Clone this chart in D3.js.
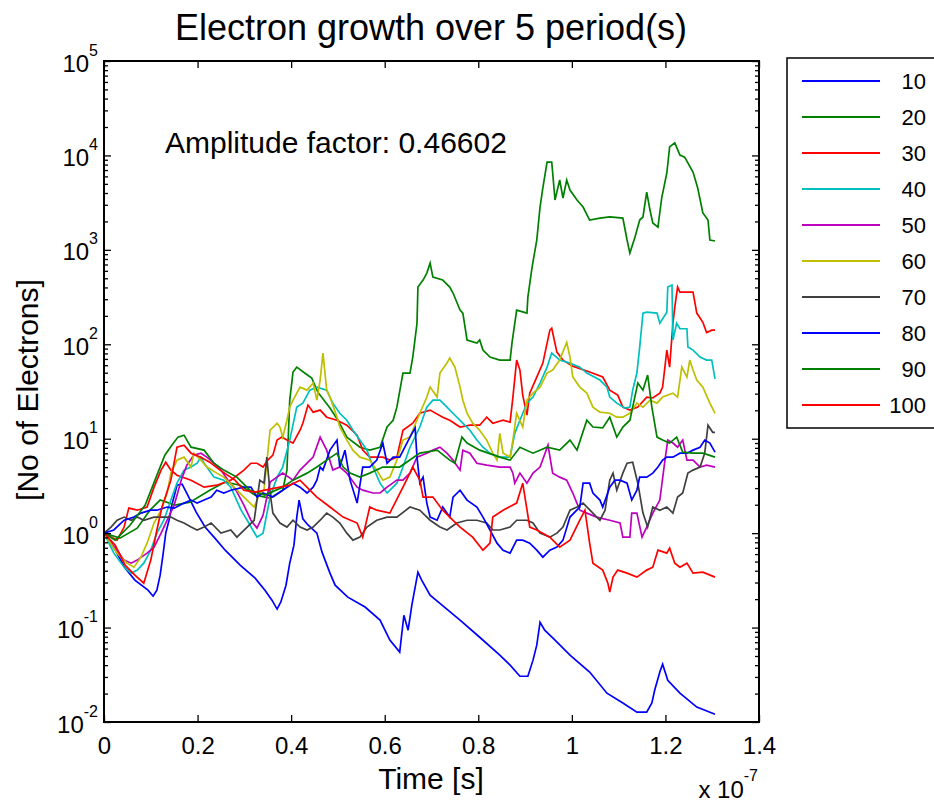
<!DOCTYPE html>
<html>
<head>
<meta charset="utf-8">
<script src="https://cdn.jsdelivr.net/npm/d3@7/dist/d3.min.js"></script>
<style>
  html, body { margin: 0; padding: 0; background: #fff; }
  svg { display: block; font-family: "Liberation Sans", Arial, sans-serif; }
</style>
</head>
<body>
<svg id="chart" width="934" height="803"></svg>
<script>
// ---------- DATA (time in units of 1e-7 s, value = number of electrons) ----------
const titleText = "Electron growth over 5 period(s)";
const annotation = "Amplitude factor: 0.46602";
const seriesNames = ["10", "20", "30", "40", "50", "60", "70", "80", "90", "100"];
const seriesColors = ["#0000ff", "#008000", "#ff0000", "#00bfbf", "#bf00bf", "#bfbf00", "#404040", "#0000ff", "#008000", "#ff0000"];
const xTickValues = [0, 0.2, 0.4, 0.6, 0.8, 1.0, 1.2, 1.4];
const xTickLabels = ["0", "0.2", "0.4", "0.6", "0.8", "1", "1.2", "1.4"];
const yTickExponents = [-2, -1, 0, 1, 2, 3, 4, 5];

const s10 = [[0,1],[0.024,0.660],[0.045,0.426],[0.066,0.318],[0.094,0.249],[0.105,0.215],[0.113,0.249],[0.120,0.359],[0.126,0.585],[0.132,1.00],[0.139,1.37],[0.145,1.98],[0.156,3.22],[0.167,3.30],[0.179,2.53],[0.197,1.67],[0.216,1.16],[0.237,0.885],[0.259,0.660],[0.291,0.458],[0.323,0.334],[0.344,0.249],[0.359,0.195],[0.370,0.157],[0.378,0.187],[0.389,0.281],[0.397,0.481],[0.406,0.746],[0.412,1.47],[0.417,2.24],[0.425,1.42],[0.436,1.22],[0.455,1.00],[0.466,0.629],[0.483,0.377],[0.494,0.281],[0.521,0.210],[0.558,0.165],[0.590,0.120],[0.611,0.0736],[0.632,0.0550],[0.641,0.135],[0.650,0.0938],[0.658,0.173],[0.671,0.386],[0.679,0.318],[0.697,0.220],[0.718,0.180],[0.761,0.120],[0.803,0.0790],[0.846,0.0510],[0.868,0.0400],[0.889,0.0305],[0.906,0.0305],[0.917,0.0452],[0.925,0.0651],[0.932,0.114],[0.942,0.0938],[0.964,0.0736],[0.996,0.0510],[1.038,0.0338],[1.075,0.0202],[1.109,0.0159],[1.139,0.0127],[1.160,0.0127],[1.171,0.0159],[1.177,0.0217],[1.188,0.0338],[1.194,0.0410],[1.205,0.0277],[1.231,0.0202],[1.267,0.0144],[1.306,0.0121]];

const s20 = [[0,1],[0.034,0.885],[0.071,1.13],[0.098,1.75],[0.120,2.24],[0.152,1.98],[0.184,2.13],[0.226,2.85],[0.259,3.47],[0.291,3.22],[0.323,2.53],[0.355,2.35],[0.382,2.85],[0.391,4.65],[0.397,25.6],[0.404,50.8],[0.412,57.3],[0.429,49.6],[0.444,44.0],[0.457,31.1],[0.483,21.1],[0.500,15.7],[0.519,10.4],[0.547,8.13],[0.568,7.57],[0.590,8.13],[0.605,13.3],[0.618,15.7],[0.626,21.6],[0.639,49.6],[0.654,49.6],[0.660,73.2],[0.669,167],[0.671,404],[0.682,479],[0.690,568],[0.697,723],[0.703,515],[0.724,479],[0.739,404],[0.746,349],[0.761,230],[0.767,214],[0.776,111],[0.797,103],[0.803,111],[0.810,86.8],[0.825,73.2],[0.846,68.0],[0.868,68.0],[0.872,103],[0.882,230],[0.904,214],[0.906,316],[0.915,657],[0.925,1271],[0.932,2840],[0.938,4520],[0.947,8500],[0.957,8500],[0.959,6520],[0.964,3370],[0.974,5490],[0.981,3540],[0.989,5490],[0.996,4300],[1.011,3370],[1.024,2840],[1.038,2070],[1.060,2170],[1.081,2230],[1.109,2170],[1.118,1271],[1.124,925],[1.135,1370],[1.145,2070],[1.152,2230],[1.160,4090],[1.167,2640],[1.173,1925],[1.184,1740],[1.192,3540],[1.203,6520],[1.209,12300],[1.220,13600],[1.231,10090],[1.241,9600],[1.259,6680],[1.269,4520],[1.280,2460],[1.291,2070],[1.295,1271],[1.306,1240]];

const s30 = [[0,1],[0.028,0.843],[0.043,1.16],[0.053,1.84],[0.071,1.75],[0.092,1.89],[0.107,3.07],[0.122,4.65],[0.132,5.64],[0.143,4.65],[0.156,4.11],[0.186,3.64],[0.214,3.07],[0.241,3.22],[0.271,3.64],[0.299,4.65],[0.314,5.50],[0.327,5.50],[0.340,5.01],[0.350,5.93],[0.361,6.70],[0.370,9.67],[0.380,10.4],[0.391,9.67],[0.404,9.00],[0.419,12.3],[0.425,14.6],[0.436,22.7],[0.447,19.1],[0.462,20.1],[0.476,16.9],[0.498,15.7],[0.519,13.9],[0.541,10.9],[0.553,7.57],[0.568,6.38],[0.596,6.38],[0.611,5.93],[0.626,6.38],[0.639,12.3],[0.660,14.6],[0.675,18.6],[0.697,20.1],[0.724,16.9],[0.739,15.7],[0.761,13.3],[0.782,13.9],[0.803,13.9],[0.818,16.9],[0.831,14.6],[0.853,15.7],[0.868,15.0],[0.874,27.6],[0.882,68.0],[0.889,53.3],[0.895,29.0],[0.904,17.8],[0.910,30.4],[0.925,44.9],[0.938,63.2],[0.953,141],[0.957,148],[0.968,82.6],[0.981,68.0],[1.002,58.7],[1.038,50.8],[1.066,45.0],[1.081,32.7],[1.098,29.0],[1.109,21.6],[1.124,20.1],[1.141,21.6],[1.160,27.6],[1.173,27.0],[1.188,30.4],[1.194,35.2],[1.203,86.8],[1.209,57.3],[1.216,167],[1.220,248],[1.226,404],[1.231,357],[1.259,357],[1.267,214],[1.274,190],[1.280,171],[1.288,133],[1.299,141],[1.306,141]];

const s40 = [[0,1],[0.021,0.614],[0.043,0.436],[0.058,0.377],[0.071,0.406],[0.085,0.481],[0.100,0.660],[0.113,1.00],[0.128,1.37],[0.143,2.24],[0.156,3.38],[0.171,4.65],[0.186,5.01],[0.199,5.50],[0.207,6.38],[0.214,5.50],[0.235,3.92],[0.256,3.64],[0.271,3.07],[0.293,1.75],[0.306,1.37],[0.327,0.907],[0.340,1.00],[0.355,2.41],[0.370,3.92],[0.382,5.01],[0.397,9.67],[0.412,21.6],[0.425,23.8],[0.440,32.7],[0.455,35.2],[0.476,32.7],[0.489,23.8],[0.504,18.6],[0.519,15.7],[0.532,12.3],[0.547,9.67],[0.562,7.57],[0.575,5.01],[0.590,3.38],[0.605,2.66],[0.626,3.38],[0.639,5.01],[0.654,8.13],[0.675,13.3],[0.690,21.6],[0.703,25.6],[0.718,25.6],[0.733,21.6],[0.746,18.6],[0.767,14.6],[0.782,12.3],[0.797,9.67],[0.810,8.13],[0.825,7.00],[0.846,6.38],[0.868,6.38],[0.878,11.4],[0.889,15.7],[0.904,23.8],[0.917,27.6],[0.932,38.9],[0.947,57.3],[0.957,80.7],[0.974,68.0],[0.996,63.2],[1.017,57.3],[1.032,49.6],[1.060,41.8],[1.075,35.2],[1.081,27.6],[1.096,23.8],[1.113,21.1],[1.124,21.6],[1.130,32.7],[1.139,49.6],[1.145,93.5],[1.152,214],[1.160,219],[1.182,214],[1.188,167],[1.203,219],[1.205,404],[1.214,424],[1.216,111],[1.224,167],[1.231,146],[1.246,146],[1.248,93.5],[1.259,86.8],[1.274,73.2],[1.288,68.0],[1.299,68.0],[1.306,43.0]];

const s50 = [[0,1],[0.028,0.660],[0.043,0.518],[0.058,0.481],[0.071,0.518],[0.092,0.614],[0.107,0.711],[0.122,1.00],[0.135,1.37],[0.150,1.98],[0.165,3.64],[0.177,5.25],[0.192,6.70],[0.207,7.03],[0.220,6.38],[0.235,5.50],[0.250,4.65],[0.265,3.64],[0.282,2.85],[0.299,1.98],[0.314,1.37],[0.327,1.13],[0.340,1.55],[0.355,3.47],[0.382,4.32],[0.404,3.64],[0.419,4.65],[0.434,5.50],[0.447,6.38],[0.462,10.4],[0.476,7.57],[0.489,4.65],[0.504,5.01],[0.519,4.32],[0.541,3.07],[0.553,2.85],[0.575,2.66],[0.590,2.66],[0.605,3.07],[0.626,3.64],[0.639,3.64],[0.654,4.32],[0.669,6.38],[0.690,7.03],[0.703,7.57],[0.718,8.13],[0.733,7.03],[0.746,5.93],[0.761,4.65],[0.767,7.57],[0.782,7.03],[0.797,5.50],[0.818,5.25],[0.846,5.01],[0.868,5.01],[0.874,4.32],[0.878,3.38],[0.889,4.32],[0.904,3.38],[0.917,4.32],[0.932,5.01],[0.949,8.55],[0.959,4.32],[0.974,3.92],[0.989,3.64],[1.002,2.66],[1.017,1.75],[1.032,1.63],[1.053,1.48],[1.081,1.37],[1.103,1.28],[1.109,0.907],[1.124,0.907],[1.128,1.63],[1.139,1.63],[1.150,0.907],[1.160,1.16],[1.173,1.63],[1.188,2.24],[1.199,5.93],[1.205,9.67],[1.216,9.00],[1.226,8.13],[1.237,9.67],[1.246,5.93],[1.259,5.93],[1.274,5.01],[1.288,5.25],[1.306,5.01]];

const s60 = [[0,1],[0.028,0.614],[0.049,0.481],[0.064,0.436],[0.079,0.557],[0.092,0.783],[0.107,1.28],[0.122,1.75],[0.135,2.66],[0.143,4.32],[0.156,5.93],[0.171,6.38],[0.186,5.01],[0.192,7.03],[0.207,5.93],[0.220,5.01],[0.241,4.32],[0.256,3.92],[0.278,3.07],[0.299,2.41],[0.321,1.89],[0.333,2.66],[0.342,2.85],[0.355,12.3],[0.370,14.6],[0.376,13.3],[0.382,10.4],[0.391,15.7],[0.397,21.6],[0.404,25.6],[0.419,35.2],[0.434,32.7],[0.447,38.9],[0.455,25.6],[0.462,41.8],[0.468,80.7],[0.476,32.7],[0.483,27.6],[0.498,16.9],[0.504,13.3],[0.519,9.67],[0.532,7.57],[0.547,6.38],[0.568,5.93],[0.583,4.65],[0.596,3.64],[0.611,3.92],[0.626,5.93],[0.639,9.67],[0.654,10.4],[0.675,18.6],[0.690,27.6],[0.697,35.2],[0.712,27.6],[0.718,49.6],[0.733,63.2],[0.739,71.5],[0.750,57.3],[0.761,35.2],[0.767,25.6],[0.776,18.6],[0.788,14.6],[0.803,12.3],[0.818,9.67],[0.831,7.03],[0.840,5.93],[0.846,11.4],[0.853,7.03],[0.868,6.38],[0.874,9.67],[0.882,18.6],[0.895,13.3],[0.904,25.6],[0.917,30.4],[0.932,35.2],[0.947,49.6],[0.959,53.3],[0.974,68.0],[0.989,105],[0.996,73.2],[1.002,45.0],[1.017,35.2],[1.032,30.4],[1.045,21.6],[1.060,19.1],[1.081,18.6],[1.096,16.9],[1.109,16.9],[1.124,18.6],[1.139,23.8],[1.152,21.6],[1.167,25.6],[1.182,23.8],[1.194,27.6],[1.216,30.4],[1.226,27.6],[1.235,57.3],[1.246,45.0],[1.252,68.0],[1.259,53.3],[1.267,41.8],[1.280,35.2],[1.295,23.8],[1.306,18.6]];

const s70 = [[0,1],[0.015,1.16],[0.028,1.37],[0.043,1.48],[0.058,1.37],[0.071,1.48],[0.085,1.37],[0.107,1.48],[0.128,1.48],[0.143,1.48],[0.156,1.37],[0.171,1.28],[0.186,1.16],[0.199,1.08],[0.214,1.16],[0.229,1.28],[0.250,1.00],[0.271,1.08],[0.284,0.907],[0.306,1.16],[0.321,1.37],[0.333,3.64],[0.342,3.38],[0.348,6.38],[0.355,2.66],[0.361,1.63],[0.376,1.28],[0.391,1.16],[0.404,1.37],[0.419,1.16],[0.434,1.08],[0.447,1.16],[0.462,1.37],[0.476,1.63],[0.489,1.48],[0.504,1.28],[0.519,1.00],[0.532,0.843],[0.547,0.907],[0.562,1.16],[0.583,1.37],[0.605,1.48],[0.626,1.48],[0.654,1.89],[0.675,1.75],[0.697,1.37],[0.718,1.16],[0.733,1.08],[0.754,1.28],[0.776,1.37],[0.797,1.37],[0.818,1.28],[0.831,1.08],[0.846,1.08],[0.868,1.16],[0.882,1.37],[0.904,1.37],[0.917,1.28],[0.932,1.00],[0.953,0.907],[0.968,1.00],[0.981,1.16],[0.996,1.75],[1.011,1.89],[1.024,2.08],[1.045,1.63],[1.060,1.37],[1.071,1.75],[1.081,3.64],[1.088,4.32],[1.096,2.85],[1.109,4.32],[1.118,5.50],[1.130,5.64],[1.141,3.38],[1.152,1.63],[1.162,1.16],[1.173,1.89],[1.188,1.75],[1.203,1.89],[1.216,1.63],[1.226,2.41],[1.237,2.66],[1.248,4.32],[1.259,4.65],[1.274,5.01],[1.284,7.03],[1.291,13.9],[1.301,11.7],[1.306,11.7]];

const s80 = [[0,1],[0.021,1.08],[0.043,1.37],[0.064,1.48],[0.079,1.63],[0.100,1.75],[0.113,1.75],[0.135,1.89],[0.150,1.84],[0.171,2.08],[0.186,2.24],[0.199,2.08],[0.214,2.24],[0.229,2.41],[0.241,2.85],[0.256,2.66],[0.271,2.85],[0.299,3.07],[0.314,3.07],[0.327,2.41],[0.340,2.66],[0.361,2.41],[0.382,2.85],[0.404,3.38],[0.419,3.07],[0.434,2.66],[0.447,3.07],[0.455,3.64],[0.462,5.01],[0.468,4.65],[0.483,7.57],[0.498,9.67],[0.504,5.01],[0.515,7.57],[0.526,3.64],[0.541,2.08],[0.553,5.01],[0.568,5.01],[0.583,5.93],[0.596,9.00],[0.605,5.50],[0.618,6.38],[0.632,6.38],[0.654,10.4],[0.665,13.0],[0.669,6.38],[0.675,3.38],[0.682,3.92],[0.690,2.08],[0.697,1.48],[0.712,1.37],[0.724,1.89],[0.739,1.48],[0.746,2.41],[0.761,2.85],[0.776,2.24],[0.797,1.89],[0.810,1.48],[0.825,1.08],[0.840,0.783],[0.853,0.660],[0.868,0.614],[0.882,0.843],[0.895,0.843],[0.910,0.783],[0.925,0.660],[0.938,0.557],[0.953,0.660],[0.968,0.711],[0.981,0.843],[0.996,1.48],[1.017,1.89],[1.024,3.38],[1.038,3.38],[1.045,2.66],[1.060,2.24],[1.066,1.89],[1.081,3.07],[1.092,3.64],[1.103,3.64],[1.118,3.38],[1.128,2.24],[1.139,2.85],[1.145,3.92],[1.160,3.92],[1.173,4.32],[1.184,5.01],[1.194,5.93],[1.203,6.38],[1.216,6.38],[1.231,7.03],[1.246,7.03],[1.259,7.57],[1.274,8.13],[1.284,9.67],[1.295,9.00],[1.306,7.21]];

const s90 = [[0,1],[0.024,0.843],[0.056,1.22],[0.088,1.98],[0.109,3.64],[0.130,6.70],[0.145,8.55],[0.158,10.4],[0.171,10.9],[0.186,8.13],[0.214,7.57],[0.235,5.50],[0.256,4.65],[0.284,3.92],[0.312,2.85],[0.344,2.53],[0.382,3.07],[0.404,3.64],[0.434,4.32],[0.455,5.01],[0.476,5.93],[0.498,7.03],[0.511,5.01],[0.526,4.32],[0.547,3.92],[0.568,4.32],[0.596,5.01],[0.632,5.01],[0.675,7.03],[0.712,7.57],[0.739,5.93],[0.750,5.50],[0.765,10.4],[0.776,9.00],[0.803,7.57],[0.846,6.38],[0.868,5.93],[0.889,8.13],[0.917,7.03],[0.947,8.13],[0.974,7.57],[0.996,9.67],[1.011,7.57],[1.032,15.7],[1.045,13.3],[1.066,13.0],[1.081,16.9],[1.096,10.4],[1.109,13.3],[1.124,15.7],[1.130,21.6],[1.141,38.9],[1.152,32.7],[1.162,47.2],[1.171,21.6],[1.182,10.4],[1.194,9.67],[1.209,9.00],[1.224,10.4],[1.237,7.21],[1.259,7.03],[1.280,7.03],[1.306,6.38]];

const s100 = [[0,1],[0.024,0.746],[0.045,0.458],[0.066,0.359],[0.085,0.295],[0.100,0.518],[0.113,1.08],[0.124,1.89],[0.143,3.64],[0.156,8.13],[0.171,8.55],[0.186,7.03],[0.207,6.38],[0.226,5.64],[0.248,4.65],[0.280,3.64],[0.299,2.85],[0.323,2.72],[0.344,2.85],[0.376,3.07],[0.397,3.22],[0.419,3.64],[0.440,2.85],[0.455,2.41],[0.483,1.89],[0.511,1.48],[0.541,1.28],[0.553,0.907],[0.568,1.89],[0.583,1.75],[0.611,1.63],[0.639,3.07],[0.654,4.32],[0.660,5.01],[0.675,3.64],[0.682,2.41],[0.703,2.41],[0.724,1.75],[0.739,1.48],[0.761,1.16],[0.788,0.907],[0.810,0.660],[0.825,0.783],[0.831,1.48],[0.853,1.75],[0.882,2.08],[0.895,3.38],[0.910,1.16],[0.925,1.08],[0.953,0.907],[0.974,0.711],[0.996,0.843],[1.017,1.37],[1.028,1.75],[1.038,0.783],[1.045,0.481],[1.066,0.406],[1.077,0.295],[1.081,0.237],[1.088,0.342],[1.098,0.406],[1.118,0.377],[1.139,0.342],[1.160,0.406],[1.173,0.436],[1.184,0.660],[1.203,0.614],[1.209,0.693],[1.220,0.481],[1.231,0.436],[1.246,0.481],[1.259,0.377],[1.280,0.386],[1.306,0.342]];

const seriesData = [s10, s20, s30, s40, s50, s60, s70, s80, s90, s100];

// ---------- LAYOUT ----------
const W = 934, H = 803;
const plot = { left: 104, right: 759, top: 61, bottom: 722 };
const FONT = '"Liberation Sans", Arial, sans-serif';

const svg = d3.select("#chart");

const x = d3.scaleLinear().domain([0, 1.4]).range([plot.left, plot.right]);
const y = d3.scaleLog().domain([1e-2, 1e5]).range([plot.bottom, plot.top]);

const yMajor = yTickExponents.map(e => Math.pow(10, e));
const yMinor = [];
for (let e = -2; e < 5; e++) for (let m = 2; m <= 9; m++) yMinor.push(m * Math.pow(10, e));

// clip
svg.append("defs").append("clipPath").attr("id", "clip")
  .append("rect").attr("x", plot.left).attr("y", plot.top)
  .attr("width", plot.right - plot.left).attr("height", plot.bottom - plot.top);

// series lines
const line = d3.line().x(d => x(d[0])).y(d => y(d[1]));
const gLines = svg.append("g").attr("clip-path", "url(#clip)");
seriesData.forEach((data, i) => {
  gLines.append("path")
    .datum(data)
    .attr("d", line)
    .attr("fill", "none")
    .attr("stroke", seriesColors[i])
    .attr("stroke-width", 1.7)
    .attr("stroke-linejoin", "miter");
});

// axes
function styleAxis(g) {
  g.select(".domain").remove();
  g.selectAll(".tick line").attr("stroke", "#000").attr("stroke-width", 1.3);
  g.selectAll("text").attr("font-family", FONT).attr("fill", "#000");
}

const gx = svg.append("g").attr("transform", `translate(0,${plot.bottom})`)
  .call(d3.axisBottom(x).tickValues(xTickValues).tickSizeInner(-7).tickSizeOuter(0)
    .tickPadding(15).tickFormat((d, i) => xTickLabels[i]));
styleAxis(gx);
gx.selectAll("text").attr("font-size", 24);

svg.append("g").attr("transform", `translate(0,${plot.top})`)
  .call(d3.axisTop(x).tickValues(xTickValues).tickSizeInner(-7).tickSizeOuter(0).tickFormat(""))
  .call(styleAxis);

const gy = svg.append("g").attr("transform", `translate(${plot.left},0)`)
  .call(d3.axisLeft(y).tickValues(yMajor).tickSizeInner(-7).tickSizeOuter(0).tickPadding(6).tickFormat(""));
styleAxis(gy);
gy.selectAll(".tick text").each(function (d, i) {
  const t = d3.select(this);
  t.text(null).attr("font-size", 24).attr("dy", "0.42em").attr("text-anchor", "end");
  t.append("tspan").text("10");
  t.append("tspan").attr("dy", -16).attr("font-size", 16).text(yTickExponents[i]);
});

svg.append("g").attr("transform", `translate(${plot.left},0)`)
  .call(d3.axisLeft(y).tickValues(yMinor).tickSizeInner(-4).tickSizeOuter(0).tickFormat(""))
  .call(styleAxis);
svg.append("g").attr("transform", `translate(${plot.right},0)`)
  .call(d3.axisRight(y).tickValues(yMajor).tickSizeInner(-7).tickSizeOuter(0).tickFormat(""))
  .call(styleAxis);
svg.append("g").attr("transform", `translate(${plot.right},0)`)
  .call(d3.axisRight(y).tickValues(yMinor).tickSizeInner(-4).tickSizeOuter(0).tickFormat(""))
  .call(styleAxis);

// box
svg.append("rect")
  .attr("x", plot.left).attr("y", plot.top)
  .attr("width", plot.right - plot.left).attr("height", plot.bottom - plot.top)
  .attr("fill", "none").attr("stroke", "#000").attr("stroke-width", 2);

// title
svg.append("text").attr("x", 431).attr("y", 40).attr("text-anchor", "middle")
  .attr("font-family", FONT).attr("font-size", 36).text(titleText);

// annotation
svg.append("text").attr("x", 165).attr("y", 153)
  .attr("font-family", FONT).attr("font-size", 30).text(annotation);

// axis labels
svg.append("text").attr("x", 431).attr("y", 789).attr("text-anchor", "middle")
  .attr("font-family", FONT).attr("font-size", 30).text("Time [s]");
svg.append("text").attr("transform", "translate(38,390) rotate(-90)").attr("text-anchor", "middle")
  .attr("font-family", FONT).attr("font-size", 30).text("[No of Electrons]");

// exponent multiplier
const mult = svg.append("text").attr("x", 758).attr("y", 798).attr("text-anchor", "end")
  .attr("font-family", FONT).attr("font-size", 24);
mult.append("tspan").text("x 10");
mult.append("tspan").attr("dy", -17).attr("font-size", 16).text("-7");

// legend
const legend = svg.append("g");
legend.append("rect").attr("x", 787).attr("y", 58).attr("width", 170).attr("height", 370)
  .attr("fill", "#fff").attr("stroke", "#000").attr("stroke-width", 1.5);
const legendY = d3.scalePoint().domain(seriesNames).range([81, 405]);
seriesNames.forEach((name, i) => {
  const yy = legendY(name);
  legend.append("line").attr("x1", 802).attr("x2", 880).attr("y1", yy).attr("y2", yy)
    .attr("stroke", seriesColors[i]).attr("stroke-width", 2);
  legend.append("text").attr("x", 926).attr("y", yy + 8).attr("text-anchor", "end")
    .attr("font-family", FONT).attr("font-size", 22).text(name);
});
</script>
</body>
</html>
